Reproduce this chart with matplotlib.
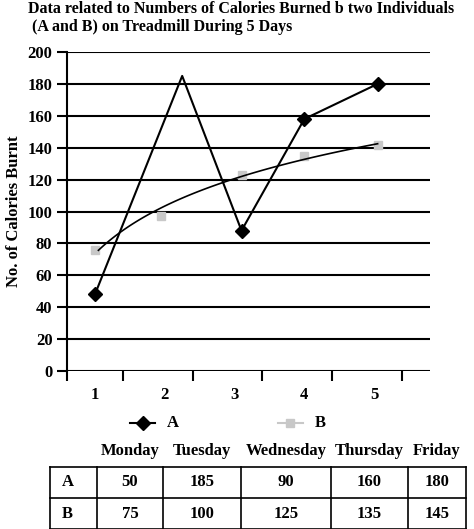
import numpy as np
import matplotlib
matplotlib.use("Agg")
import matplotlib.pyplot as plt

days = ["Monday", "Tuesday", "Wednesday", "Thursday", "Friday"]
x_labels = ["1", "2", "3", "4", "5"]
a_table = [50, 185, 90, 160, 180]
b_table = [75, 100, 125, 135, 145]
# values as drawn in the chart
a_plot = [48, 185, 88, 158, 180]
a_x = [0.95, 2.2, 3.05, 3.95, 5.0]
b_plot = [76, 97, 123, 135, 142]
b_x = [0.95, 1.9, 3.05, 3.95, 5.0]

plt.rcParams['font.family'] = ['Liberation Serif']
plt.rcParams['font.weight'] = 'bold'
W, H = 474, 529
fig = plt.figure(figsize=(W/100, H/100), dpi=100)

def fx(p): return p / W
def fy(p): return 1 - p / H

ax = fig.add_axes([fx(67), fy(371), fx(430-67), (371-52)/H])
ax.set_xlim(0.55, 5.75)
ax.set_ylim(0, 200)
for v in range(0, 201, 20):
    ax.axhline(v, color='black', lw=1.5, zorder=0)
for s in ['top', 'right', 'bottom']:
    ax.spines[s].set_visible(False)
ax.spines['left'].set_linewidth(1.5)
ax.set_yticks(range(0, 201, 20))
ax.set_xticks([0.55, 1.35, 2.35, 3.35, 4.35, 5.35])
ax.set_xticklabels([])
ax.tick_params(axis='x', length=7, width=1.5, direction='out')
ax.tick_params(axis='y', length=7, width=1.5, direction='out', labelsize=12)
for i, lab in enumerate(x_labels):
    ax.text(i + 1 - 0.05, -15, lab, ha='center', va='center', fontsize=12, fontweight='bold')
ax.set_ylabel("No. of Calories Burnt", fontsize=12, fontweight='bold')

ax.plot(a_x, a_plot, color='black', lw=1.5, marker='D', ms=7, markevery=[0, 2, 3, 4], zorder=3)
ax.plot(b_x, b_plot, ls='none', marker='s', ms=6, color='#c8c8c8', zorder=2)
coef = np.polyfit(np.log(b_x), b_plot, 1)
xs = np.linspace(1.0, 5, 100)
ax.plot(xs, coef[0]*np.log(xs) + coef[1], color='black', lw=1.2, zorder=2)

fig.text(fx(28), fy(1), "Data related to Numbers of Calories Burned b two Individuals\n (A and B) on Treadmill During 5 Days",
         ha='left', va='top', fontsize=11.5, fontweight='bold', linespacing=1.15)

# legend
ov = fig.add_axes([0, 0, 1, 1])
ov.set_xlim(0, W); ov.set_ylim(H, 0); ov.axis('off')
ov.plot([130, 155], [423, 423], color='black', lw=1.5)
ov.plot([143], [423], marker='D', color='black', ms=7)
ov.text(167, 423, "A", va='center', fontsize=12, fontweight='bold')
ov.plot([278, 303], [423, 423], color='#c8c8c8', lw=1.5)
ov.plot([290], [423], marker='s', color='#c8c8c8', ms=6)
ov.text(315, 423, "B", va='center', fontsize=12, fontweight='bold')

# table
cols = [50, 97, 163, 241, 331, 408, 466]
rows = [467, 498, 529]
for i, d in enumerate(days):
    ov.text((cols[i+1]+cols[i+2])/2, 451, d, ha='center', va='center', fontsize=12, fontweight='bold')
for c in cols:
    ov.plot([c, c], [rows[0], rows[-1]], color='black', lw=1.2)
for r in rows:
    ov.plot([cols[0], cols[-1]], [r, r], color='black', lw=1.2)
for ri, (name, vals) in enumerate([("A", a_table), ("B", b_table)]):
    yc = (rows[ri] + rows[ri+1]) / 2
    ov.text(62, yc, name, ha='left', va='center', fontsize=12, fontweight='bold')
    for i, v in enumerate(vals):
        ov.text((cols[i+1]+cols[i+2])/2, yc, str(v), ha='center', va='center', fontsize=12, fontweight='bold')

fig.savefig("out.png", dpi=100)
